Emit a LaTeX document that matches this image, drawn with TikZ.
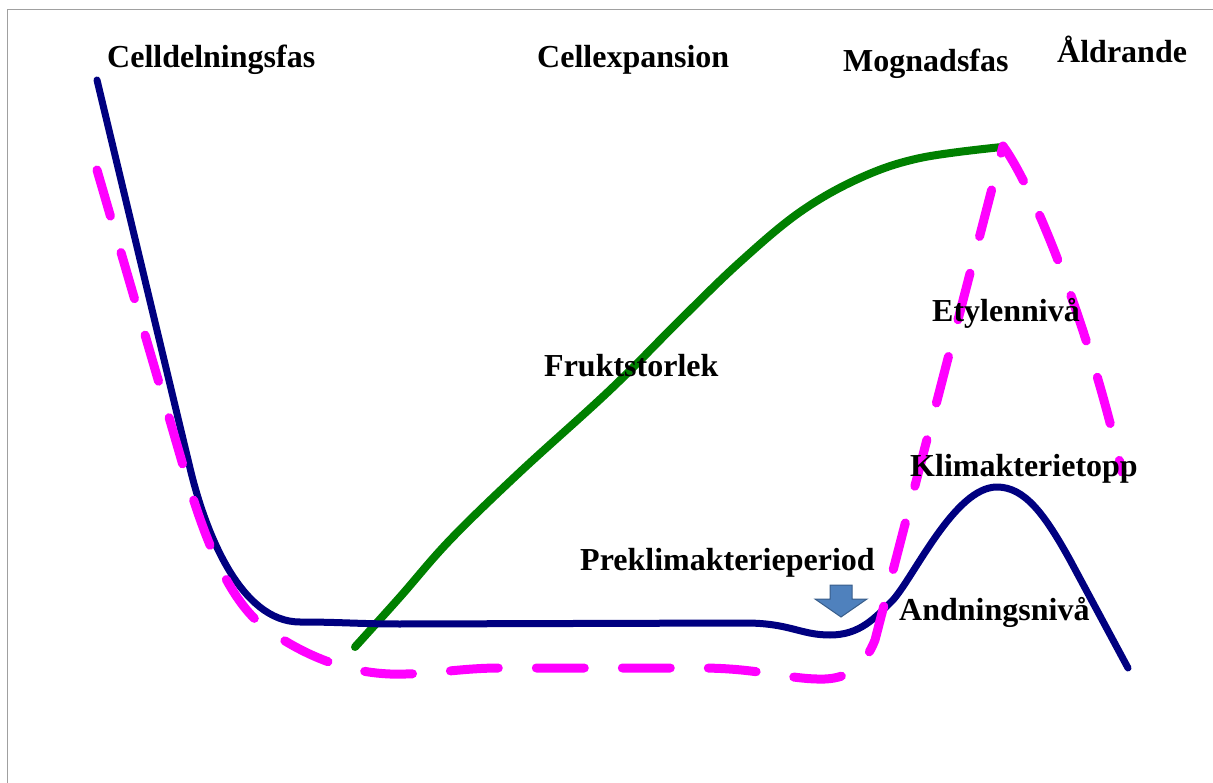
\documentclass[tikz,border=0pt]{standalone}
\usepackage{fontspec}
\setmainfont{Liberation Serif}
\begin{document}
\begin{tikzpicture}[x=1pt,y=-1pt,
  lbl/.style={anchor=base west,inner sep=0pt,font=\fontsize{32}{38}\selectfont\bfseries,text=black},
  resp/.style={draw={rgb,255:red,0;green,0;blue,128},line width=7pt,line cap=round,line join=round},
  ethyl/.style={draw={rgb,255:red,255;green,0;blue,255},line width=9pt,line cap=round,line join=round,dash pattern=on 48pt off 38pt},
  size/.style={draw={rgb,255:red,0;green,128;blue,0},line width=8pt,line cap=round}]
\useasboundingbox (0,0) rectangle (1213,783);
\draw[color={rgb,255:red,160;green,160;blue,160},line width=1.8pt] (7.5,783) -- (7.5,9.5) -- (1213,9.5);
% Fruit size
\draw[size] plot[smooth,tension=0.6] coordinates {(355,647) (400,597) (450,540) (520,472) (610,390) (680,320) (740,262) (800,212) (860,178) (920,158) (1002,147)};
% Respiration
\draw[resp] (97,80) -- (190,468) .. controls (205,531) and (240,622) .. (300,622)
  .. controls (340,622) and (360,624) .. (400,624) -- (745,623)
  .. controls (790,623) and (800,635) .. (830,635)
  .. controls (860,635) and (875,618) .. (893,600)
  .. controls (915,575) and (955,487) .. (997,487)
  .. controls (1025,487) and (1045,515) .. (1070,560) -- (1128,668);
% Ethylene
\draw[ethyl] (97,170) -- (180,455) .. controls (200,525) and (225,600) .. (268,630)
  .. controls (300,652) and (340,672) .. (390,674)
  .. controls (430,675) and (460,668) .. (500,668) -- (700,668)
  .. controls (760,668) and (790,680) .. (825,679)
  .. controls (850,678) and (865,665) .. (875,640) -- (1003,146)
  .. controls (1035,190) and (1090,330) .. (1122,472);
% Arrow
\filldraw[fill={rgb,255:red,79;green,129;blue,189},draw={rgb,255:red,56;green,93;blue,138},line width=1pt,line join=miter]
  (830,585) -- (852,585) -- (852,599) -- (867,599) -- (841,617) -- (815,599) -- (830,599) -- cycle;
% Labels
\node[lbl] (t1) at (107,68) {Celldelningsfas};
\node[lbl] (t2) at (537,68) {Cellexpansion};
\node[lbl] (t3) at (843,72) {Mognadsfas};
\node[lbl] (t4) at (1057,63) {Åldrande};
\node[lbl] (t5) at (932,322) {Etylennivå};
\node[lbl] (t6) at (544,377) {Fruktstorlek};
\node[lbl] (t7) at (910,476) {Klimakterietopp};
\node[lbl] (t8) at (580,570) {Preklimakterieperiod};
\node[lbl] (t9) at (899,620) {Andningsnivå};
\end{tikzpicture}
\end{document}
